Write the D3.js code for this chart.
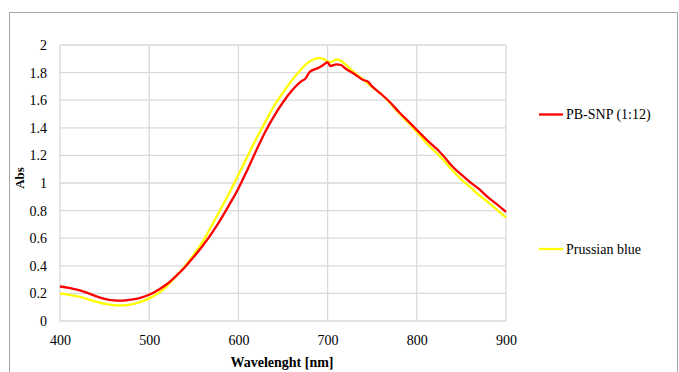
<!DOCTYPE html>
<html>
<head>
<meta charset="utf-8">
<script src="https://cdn.jsdelivr.net/npm/d3@7"></script>
<style>
  body { margin: 0; background: #fff; }
  svg { display: block; }
</style>
</head>
<body>
<svg id="chart" width="679" height="372"></svg>
<script>
// wavelengths (nm) and absorbance for each series
const wavelengths = [400, 410, 420, 430, 440, 450, 460, 470, 480, 490, 500, 510, 520, 530, 540, 550, 560, 570, 580, 590,
  600, 610, 620, 630, 640, 650, 660, 670, 675, 680, 690, 695, 700, 703, 710, 715, 720, 730, 740, 745, 750, 760, 770,
  780, 790, 800, 810, 820, 825, 830, 840, 850, 860, 870, 880, 890, 900];
const pbSnp = [0.250, 0.240, 0.225, 0.205, 0.180, 0.160, 0.150, 0.148, 0.155, 0.168, 0.190, 0.225, 0.268, 0.325, 0.390,
  0.465, 0.545, 0.635, 0.735, 0.845, 0.960, 1.095, 1.235, 1.370, 1.485, 1.585, 1.670, 1.735, 1.755, 1.805, 1.835,
  1.855, 1.875, 1.848, 1.860, 1.855, 1.830, 1.790, 1.746, 1.735, 1.700, 1.645, 1.585, 1.515, 1.450, 1.385, 1.320,
  1.260, 1.230, 1.195, 1.120, 1.060, 1.005, 0.955, 0.895, 0.845, 0.790];
const prussianBlue = [0.198, 0.190, 0.178, 0.160, 0.140, 0.125, 0.115, 0.113, 0.120, 0.138, 0.164, 0.200, 0.255, 0.325,
  0.395, 0.480, 0.575, 0.690, 0.810, 0.930, 1.060, 1.190, 1.320, 1.440, 1.560, 1.655, 1.745, 1.820, 1.855, 1.880,
  1.905, 1.900, 1.880, 1.875, 1.895, 1.885, 1.860, 1.800, 1.750, 1.720, 1.695, 1.645, 1.580, 1.505, 1.440, 1.370,
  1.295, 1.230, 1.200, 1.165, 1.090, 1.025, 0.970, 0.910, 0.860, 0.805, 0.750];
const xTicks = [400, 500, 600, 700, 800, 900];
const yTicks = [0, 0.2, 0.4, 0.6, 0.8, 1, 1.2, 1.4, 1.6, 1.8, 2];
const seriesNames = ["PB-SNP (1:12)", "Prussian blue"];
const seriesColors = ["#ff0000", "#ffff00"];

const FONT = "Liberation Serif";
const svg = d3.select("#chart").attr("font-family", FONT);
const plot = { left: 60, right: 506, top: 45, bottom: 321 };

// outer chart border
svg.append("rect")
  .attr("x", 9.5).attr("y", 12.5)
  .attr("width", 668).attr("height", 420)
  .attr("fill", "none")
  .attr("stroke", "#a6a6a6")
  .attr("stroke-width", 1);

const x = d3.scaleLinear().domain([400, 900]).range([plot.left, plot.right]);
const y = d3.scaleLinear().domain([0, 2]).range([plot.bottom, plot.top]);

// grid
const $grid = svg.append("g").attr("stroke", "#d9d9d9").attr("stroke-width", 1.3);
$grid.selectAll(".h").data(yTicks).enter().append("line")
  .attr("x1", plot.left).attr("x2", plot.right)
  .attr("y1", (d) => y(d)).attr("y2", (d) => y(d));
$grid.selectAll(".v").data(xTicks).enter().append("line")
  .attr("y1", plot.top).attr("y2", plot.bottom)
  .attr("x1", (d) => x(d)).attr("x2", (d) => x(d));

// axes (labels only, no tick marks)
const xAxis = svg.append("g")
  .attr("transform", `translate(0,${plot.bottom})`)
  .call(d3.axisBottom(x).tickValues(xTicks).tickSize(0).tickPadding(14).tickFormat(d3.format("d")));
const yAxis = svg.append("g")
  .attr("transform", `translate(${plot.left},0)`)
  .call(d3.axisLeft(y).tickValues(yTicks).tickSize(0).tickPadding(13).tickFormat((d) => String(d)));
[xAxis, yAxis].forEach(($a) => {
  $a.attr("font-family", FONT).attr("font-size", 14);
  $a.select(".domain").remove();
  $a.selectAll("text").attr("fill", "#000");
});

// series lines
const series = [pbSnp, prussianBlue];
const line = d3.line()
  .x((d, i) => x(wavelengths[i]))
  .y((d) => y(d))
  .curve(d3.curveMonotoneX);
// yellow drawn first so red sits on top like the original
[1, 0].forEach((k) => {
  svg.append("path")
    .datum(series[k])
    .attr("d", line)
    .attr("fill", "none")
    .attr("stroke", seriesColors[k])
    .attr("stroke-width", 2.3)
    .attr("stroke-linejoin", "round");
});

// axis titles
svg.append("text")
  .attr("x", 282).attr("y", 367)
  .attr("text-anchor", "middle")
  .attr("font-family", FONT)
  .attr("font-size", 14)
  .attr("font-weight", "bold")
  .text("Wavelenght [nm]");
svg.append("text")
  .attr("transform", "translate(24,178) rotate(-90)")
  .attr("text-anchor", "middle")
  .attr("font-family", FONT)
  .attr("font-size", 13)
  .attr("font-weight", "bold")
  .text("Abs");

// legend
const legendY = [114.5, 249];
const $legend = svg.append("g");
seriesNames.forEach((name, k) => {
  $legend.append("line")
    .attr("x1", 539).attr("x2", 563)
    .attr("y1", legendY[k]).attr("y2", legendY[k])
    .attr("stroke", seriesColors[k])
    .attr("stroke-width", 2.3);
  $legend.append("text")
    .attr("x", 566).attr("y", legendY[k])
    .attr("dy", "0.35em")
    .attr("font-family", FONT)
    .attr("font-size", 14)
    .text(name);
});
</script>
</body>
</html>
